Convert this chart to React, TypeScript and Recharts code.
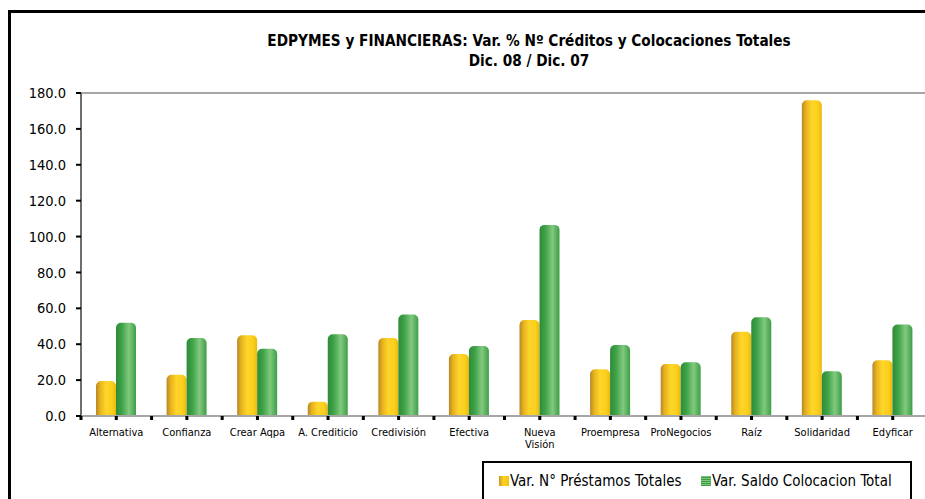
import { BarChart, Bar, XAxis, YAxis, ReferenceLine } from 'recharts';

// categorias (\n = salto de linea en la etiqueta)
const categories = [
  'Alternativa', 'Confianza', 'Crear Aqpa', 'A. Crediticio', 'Credivisión', 'Efectiva',
  'Nueva\nVisión', 'Proempresa', 'ProNegocios', 'Raíz', 'Solidaridad', 'Edyficar',
];
const prestamos = [19.5, 23.0, 45.0, 8.0, 43.5, 34.5, 53.5, 26.0, 29.0, 47.0, 176.0, 31.0];
const saldo = [52.0, 43.5, 37.5, 45.5, 56.5, 39.0, 106.5, 39.5, 30.0, 55.0, 25.0, 51.0];
const yTicks = [0, 20, 40, 60, 80, 100, 120, 140, 160, 180];
const seriesNames = ['Var. N° Préstamos Totales', 'Var. Saldo Colocacion Total'];
const titleLines = ['EDPYMES y FINANCIERAS: Var. % Nº Créditos y Colocaciones Totales', 'Dic. 08 / Dic. 07'];

const data = categories.map((name, i) => ({ name, prestamos: prestamos[i], saldo: saldo[i] }));

const FONT = "'DejaVu Sans Condensed', 'DejaVu Sans', sans-serif";
const CHART_W = 935;
const CHART_H = 499;
const Y_AXIS_W = 81;
const MARGIN_RIGHT = 7;
const BAND = (CHART_W - MARGIN_RIGHT - Y_AXIS_W) / categories.length;

const CategoryTick = (props: any) => {
  const { x, y, payload } = props;
  const lines = String(payload.value).split('\n');
  return (
    <g>
      <rect x={x - BAND / 2 - 1.5} y={y} width={3} height={4} fill="#000" />
      <rect x={x - 1.5} y={y} width={3} height={4} fill="#000" />
      <text x={x} y={y + 19.5} textAnchor="middle" fontSize={11} fill="#000" fontFamily={FONT}>
        {lines.map((l, i) => (
          <tspan key={i} x={x} dy={i === 0 ? 0 : 12.5}>{l}</tspan>
        ))}
      </text>
    </g>
  );
};

const LegendIcon = ({ kind }: { kind: 'y' | 'g' }) => (
  <span
    style={{
      display: 'inline-block',
      width: 10,
      height: 10,
      marginRight: 1,
      background:
        kind === 'y'
          ? 'linear-gradient(90deg, #c9962a 0%, #ffd324 45%, #f4c30c 100%)'
          : 'repeating-linear-gradient(0deg, #3d9e47 0px, #3d9e47 1px, #7cc47a 1px, #7cc47a 2px)',
    }}
  />
);

export default function App() {
  return (
    <div style={{ position: 'fixed', left: 0, top: 0, width: 925, height: 499, overflow: 'hidden', background: '#fff' }}>
      {/* marco */}
      <div style={{ position: 'absolute', left: 8, top: 10, width: 1000, height: 600, border: '3px solid #000' }} />

      <div
        style={{
          position: 'absolute', left: 229, top: 31, width: 600, textAlign: 'center',
          fontFamily: FONT, fontWeight: 'bold', fontSize: 15.2, lineHeight: '20px', color: '#000',
        }}
      >
        {titleLines.map((t) => <div key={t}>{t}</div>)}
      </div>

      <div style={{ position: 'absolute', left: 0, top: 0 }}>
        <BarChart
          width={CHART_W}
          height={CHART_H}
          data={data}
          margin={{ top: 93, right: MARGIN_RIGHT, bottom: 0, left: 0 }}
          barGap={0}
        >
          <defs>
            <linearGradient id="gYellow" x1="0" y1="0" x2="1" y2="0">
              <stop offset="0%" stopColor="#b7862a" />
              <stop offset="20%" stopColor="#e7b21c" />
              <stop offset="50%" stopColor="#ffd52a" />
              <stop offset="80%" stopColor="#fbcf1c" />
              <stop offset="100%" stopColor="#e9b90e" />
            </linearGradient>
            <linearGradient id="gGreen" x1="0" y1="0" x2="1" y2="0">
              <stop offset="0%" stopColor="#2f8a38" />
              <stop offset="30%" stopColor="#3fa348" />
              <stop offset="65%" stopColor="#82c97f" />
              <stop offset="100%" stopColor="#3d9e46" />
            </linearGradient>
          </defs>
          <ReferenceLine y={180} stroke="#a6a6a6" strokeWidth={2} />
          <XAxis
            dataKey="name"
            interval={0}
            height={83}
            tickLine={false}
            tickSize={0}
            tickMargin={0}
            axisLine={{ stroke: '#a6a6a6', strokeWidth: 2 }}
            tick={<CategoryTick />}
          />
          <YAxis
            width={Y_AXIS_W}
            domain={[0, 180]}
            ticks={yTicks}
            interval={0}
            tickFormatter={(v: number) => v.toFixed(1)}
            tick={{ fontSize: 14.5, fill: '#000', fontFamily: FONT }}
            tickLine={{ stroke: '#000', strokeWidth: 2 }}
            tickSize={5}
            tickMargin={10}
            axisLine={{ stroke: '#6e6e6e', strokeWidth: 2 }}
          />
          <Bar dataKey="prestamos" name={seriesNames[0]} fill="url(#gYellow)" barSize={20} radius={[5, 5, 0, 0]} isAnimationActive={false} />
          <Bar dataKey="saldo" name={seriesNames[1]} fill="url(#gGreen)" barSize={20} radius={[5, 5, 0, 0]} isAnimationActive={false} />
        </BarChart>
      </div>

      {/* leyenda */}
      <div
        style={{
          position: 'absolute', left: 482, top: 461, width: 430, height: 50, boxSizing: 'border-box',
          border: '2.5px solid #000', background: '#fff', fontFamily: FONT, fontSize: 15, color: '#000',
        }}
      >
        {seriesNames.map((n, i) => (
          <div
            key={n}
            style={{ position: 'absolute', left: i === 0 ? 15 : 217, top: 9, display: 'flex', alignItems: 'center', whiteSpace: 'nowrap' }}
          >
            <LegendIcon kind={i === 0 ? 'y' : 'g'} />
            <span>{n}</span>
          </div>
        ))}
      </div>
    </div>
  );
}
